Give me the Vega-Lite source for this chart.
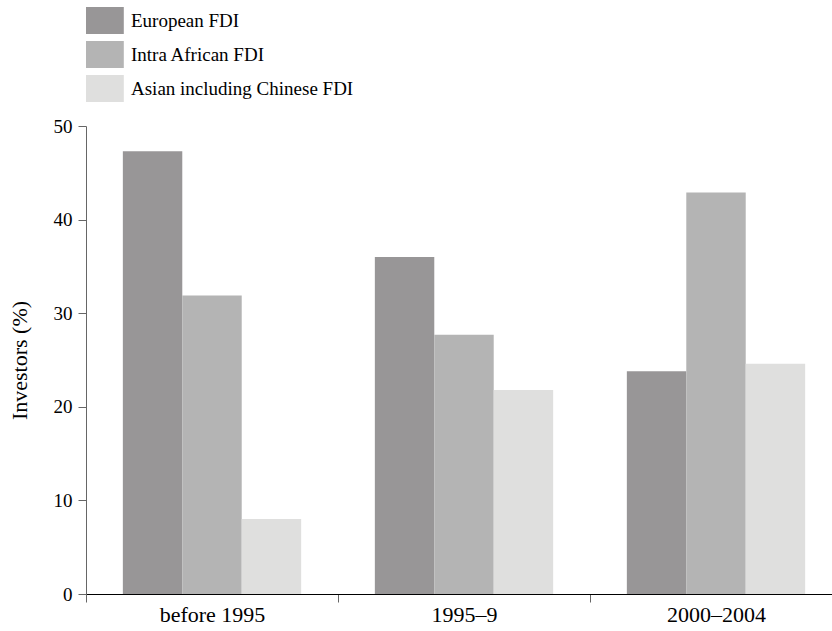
{
  "$schema": "https://vega.github.io/schema/vega-lite/v6.json",
  "width": 756,
  "height": 468,
  "autosize": "none",
  "padding": {"left": 86, "top": 126, "right": 0, "bottom": 37},
  "background": "white",
  "config": {"font": "Liberation Serif", "view": {"stroke": null}},
  "data": {
    "values": [
      {"period": "before 1995", "type": "European FDI", "value": 47.3},
      {"period": "before 1995", "type": "Intra African FDI", "value": 31.9},
      {"period": "before 1995", "type": "Asian including Chinese FDI", "value": 8.0},
      {"period": "1995–9", "type": "European FDI", "value": 36.0},
      {"period": "1995–9", "type": "Intra African FDI", "value": 27.7},
      {"period": "1995–9", "type": "Asian including Chinese FDI", "value": 21.8},
      {"period": "2000–2004", "type": "European FDI", "value": 23.8},
      {"period": "2000–2004", "type": "Intra African FDI", "value": 42.9},
      {"period": "2000–2004", "type": "Asian including Chinese FDI", "value": 24.6}
    ]
  },
  "mark": {"type": "bar"},
  "encoding": {
    "x": {
      "field": "period",
      "type": "nominal",
      "sort": ["before 1995", "1995–9", "2000–2004"],
      "scale": {"paddingInner": 0, "paddingOuter": 0},
      "axis": {
        "title": null,
        "labelAngle": 0,
        "tickBand": "extent",
        "labelFontSize": 22,
        "labelColor": "black",
        "domainColor": "black",
        "domainWidth": 1,
        "tickColor": "#666",
        "tickSize": 8,
        "labelPadding": 2
      }
    },
    "xOffset": {
      "field": "type",
      "type": "nominal",
      "sort": ["European FDI", "Intra African FDI", "Asian including Chinese FDI"],
      "scale": {"paddingOuter": 0.62, "paddingInner": 0}
    },
    "y": {
      "field": "value",
      "type": "quantitative",
      "scale": {"domain": [0, 50]},
      "axis": {
        "values": [0, 10, 20, 30, 40, 50],
        "grid": false,
        "title": "Investors (%)",
        "titleFontSize": 22,
        "titleFontWeight": "normal",
        "titleColor": "black",
        "titlePadding": 22,
        "labelFontSize": 19,
        "labelColor": "black",
        "labelPadding": 6,
        "tickSize": 8,
        "tickColor": "#666",
        "domainColor": "#666"
      }
    },
    "color": {
      "field": "type",
      "type": "nominal",
      "sort": ["European FDI", "Intra African FDI", "Asian including Chinese FDI"],
      "scale": {
        "domain": ["European FDI", "Intra African FDI", "Asian including Chinese FDI"],
        "range": ["#989697", "#b4b4b4", "#dfdfde"]
      },
      "legend": {
        "title": null,
        "orient": "none",
        "legendX": 0,
        "legendY": -119,
        "symbolType": "M-1,-1L1.8,-1L1.8,1L-1,1Z",
        "symbolSize": 729,
        "symbolStrokeWidth": 0,
        "symbolOpacity": 1,
        "labelFontSize": 19,
        "labelColor": "black",
        "labelOffset": 18,
        "rowPadding": 7,
        "labelLimit": 400
      }
    }
  }
}
